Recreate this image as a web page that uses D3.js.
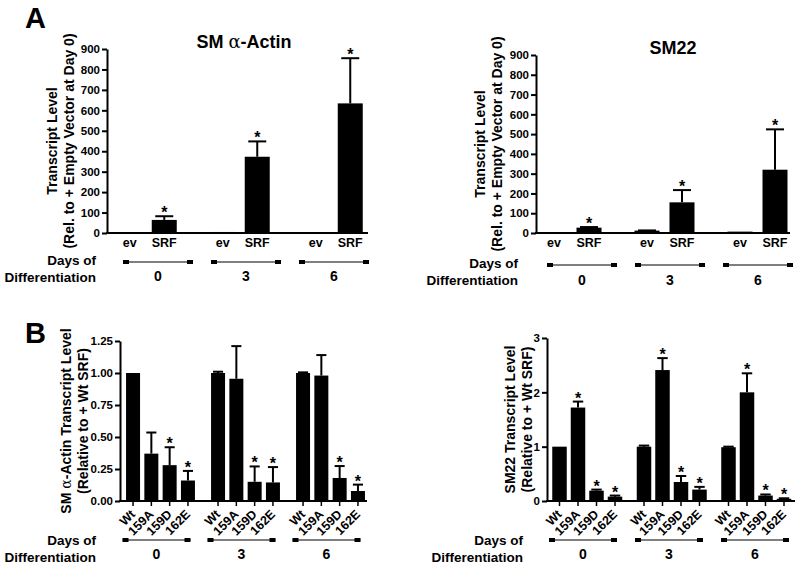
<!DOCTYPE html>
<html><head><meta charset="utf-8">
<script src="https://cdn.jsdelivr.net/npm/d3@7"></script>
<style>
body{margin:0;background:#fff;}
svg{font-family:"Liberation Sans",Arial,Helvetica,sans-serif;font-weight:bold;}
</style></head>
<body><svg id="c" width="800" height="565"></svg>
<script>
// ---------- DATA ----------
const days = ["0","3","6"];
const constructsA = ["ev","SRF"];
const constructsB = ["Wt","159A","159D","162E"];
const ticksA = [0,100,200,300,400,500,600,700,800,900];
const ticksBactin = [0,0.25,0.5,0.75,1.0,1.25];
const ticksBsm22 = [0,1,2,3];

// Panel A: SM alpha-actin (rows = days, cols = ev, SRF)
const actinA_mean = [[1,64],[5,373],[4,634]];
const actinA_err  = [[0,18],[0,75],[0,221]];
const actinA_sig  = [[0,1],[0,1],[0,1]];
// Panel A: SM22
const sm22A_mean = [[4,27],[12,155],[7,320]];
const sm22A_err  = [[0,3],[1,62],[0,204]];
const sm22A_sig  = [[0,1],[0,1],[0,1]];
// Panel B: SM alpha-actin (cols = Wt,159A,159D,162E)
const actinB_mean = [[1.00,0.37,0.28,0.16],[1.00,0.955,0.15,0.145],[1.00,0.98,0.18,0.078]];
const actinB_err  = [[0,0.165,0.14,0.075],[0.01,0.255,0.12,0.12],[0.005,0.16,0.093,0.05]];
const actinB_sig  = [[0,0,1,1],[0,0,1,1],[0,0,1,1]];
// Panel B: SM22
const sm22B_mean = [[1.00,1.72,0.19,0.08],[1.00,2.41,0.35,0.21],[0.99,2.00,0.10,0.04]];
const sm22B_err  = [[0,0.11,0.02,0.02],[0.02,0.22,0.11,0.05],[0.01,0.35,0.02,0.01]];
const sm22B_sig  = [[0,1,1,1],[0,1,1,1],[0,1,1,1]];

// ---------- DRAW ----------
const svg = d3.select("#c");

function panel(o){
  const g = svg.append("g");
  const y = d3.scaleLinear().domain([0,o.ymax]).range([o.yBot,o.yTop]);
  const gx = d3.scaleBand().domain(days).range(o.groupRange).padding(0);
  const n = o.cats.length;
  const B = gx.bandwidth();
  const pi = 1 - o.bw/o.step;
  const po = (B/o.step - n + pi)/2;
  const ix = d3.scaleBand().domain(o.cats).range([0,B]).paddingInner(pi).paddingOuter(po);

  // y axis
  const ya = g.append("g").attr("transform",`translate(${o.x0},0)`)
    .call(d3.axisLeft(y).tickValues(o.ticks).tickFormat(o.fmt).tickSize(5).tickSizeOuter(0).tickPadding(2));
  ya.selectAll("path,line").attr("stroke","#000").attr("stroke-width",2);
  ya.selectAll("text").attr("font-size",11.5).attr("font-weight","bold").attr("fill","#000")
    .attr("font-family",'"Liberation Sans",Arial,sans-serif');
  // x axis line
  g.append("line").attr("x1",o.x0-1).attr("x2",o.x1).attr("y1",o.yBot).attr("y2",o.yBot)
    .attr("stroke","#000").attr("stroke-width",2);

  // bars
  const recs = [];
  days.forEach((d,i)=>o.cats.forEach((c,j)=>recs.push({d,c,v:o.mean[i][j],e:o.err[i][j],s:o.sig[i][j]})));
  const cx = r => gx(r.d)+ix(r.c)+ix.bandwidth()/2;
  g.selectAll("rect.bar").data(recs).enter().append("rect")
    .attr("x",r=>gx(r.d)+ix(r.c)).attr("width",ix.bandwidth())
    .attr("y",r=>y(r.v)).attr("height",r=>o.yBot-y(r.v)).attr("fill","#000");
  // error bars
  const eb = recs.filter(r=>r.e>0);
  g.selectAll("line.ev").data(eb).enter().append("line")
    .attr("x1",cx).attr("x2",cx).attr("y1",r=>y(r.v)).attr("y2",r=>y(r.v+r.e))
    .attr("stroke","#000").attr("stroke-width",2);
  g.selectAll("line.eh").data(eb).enter().append("line")
    .attr("x1",r=>cx(r)-ix.bandwidth()*0.36).attr("x2",r=>cx(r)+ix.bandwidth()*0.36)
    .attr("y1",r=>y(r.v+r.e)).attr("y2",r=>y(r.v+r.e))
    .attr("stroke","#000").attr("stroke-width",2);
  // stars
  g.selectAll("text.star").data(recs.filter(r=>r.s)).enter().append("text")
    .attr("x",cx).attr("y",r=>y(r.v+r.e)+2).attr("text-anchor","middle")
    .attr("font-size",16).text("*");

  // x labels
  if(o.rot){
    g.selectAll("g.xt").data(recs).enter().append("line")
      .attr("x1",cx).attr("x2",cx).attr("y1",o.yBot).attr("y2",o.yBot+5)
      .attr("stroke","#000").attr("stroke-width",1.5);
    g.selectAll("text.xl").data(recs).enter().append("text")
      .attr("transform",r=>`translate(${cx(r)+3},${o.yBot+14}) rotate(-45)`)
      .attr("text-anchor","end").attr("font-size",12.5).text(r=>r.c);
  } else {
    g.selectAll("text.xl").data(recs).enter().append("text")
      .attr("x",cx).attr("y",o.yBot+14).attr("text-anchor","middle")
      .attr("font-size",12.5).text(r=>r.c);
  }

  // day brackets
  const bx = d3.scaleBand().domain(days).range(o.bracketRange).padding(0);
  days.forEach(d=>{
    const c = bx(d)+bx.bandwidth()/2, h = o.bracketHalf;
    g.append("line").attr("x1",c-h).attr("x2",c+h).attr("y1",o.bracketY).attr("y2",o.bracketY)
      .attr("stroke","#000").attr("stroke-width",1.2);
    g.append("rect").attr("x",c-h).attr("y",o.bracketY-2).attr("width",6).attr("height",4).attr("fill","#000");
    g.append("rect").attr("x",c+h-6).attr("y",o.bracketY-2).attr("width",6).attr("height",4).attr("fill","#000");
    g.append("text").attr("x",c).attr("y",o.dayY).attr("text-anchor","middle").attr("font-size",14).text(d);
  });
  g.append("text").attr("x",o.daysOfX).attr("y",o.daysOfY).attr("text-anchor","end").attr("font-size",13.5).text("Days of");
  g.append("text").attr("x",o.daysOfX).attr("y",o.daysOfY+17).attr("text-anchor","end").attr("font-size",13.5).text("Differentiation");

  // y title
  const yc = (o.yTop+o.yBot)/2;
  const t1 = g.append("text").attr("transform",`translate(${o.ylx1},${yc}) rotate(-90)`)
    .attr("text-anchor","middle").attr("dominant-baseline","central").attr("font-size",14);
  o.ylab1(t1);
  g.append("text").attr("transform",`translate(${o.ylx2},${yc}) rotate(-90)`)
    .attr("text-anchor","middle").attr("dominant-baseline","central").attr("font-size",14).text(o.ylab2);

  if(o.title){
    const t = g.append("text").attr("x",o.titleX).attr("y",o.titleY).attr("text-anchor","middle").attr("font-size",18);
    o.title(t);
  }
}

function alphaText(sel, before, after){
  sel.append("tspan").text(before);
  sel.append("tspan").attr("font-weight","normal").attr("font-family",'"DejaVu Serif",serif').text("α");
  sel.append("tspan").text(after);
}

// Panel A left
panel({x0:107,x1:368,yTop:49,yBot:233,ymax:900,ticks:ticksA,fmt:d3.format("d"),
  groupRange:[100.5,379.5],step:34.5,bw:25,cats:constructsA,
  mean:actinA_mean,err:actinA_err,sig:actinA_sig,rot:false,
  bracketRange:[114,378],bracketHalf:35,bracketY:262,dayY:281,daysOfX:96,daysOfY:265,
  ylx1:52,ylx2:69,ylab1:t=>t.text("Transcript Level"),ylab2:"(Rel. to + Empty Vector at Day 0)",
  title:t=>alphaText(t,"SM ","-Actin"),titleX:244,titleY:48});
// Panel A right
panel({x0:536,x1:790,yTop:55,yBot:233,ymax:900,ticks:ticksA,fmt:d3.format("d"),
  groupRange:[525,804],step:35,bw:25,cats:constructsA,
  mean:sm22A_mean,err:sm22A_err,sig:sm22A_sig,rot:false,
  bracketRange:[538,802],bracketHalf:35,bracketY:265,dayY:285,daysOfX:518,daysOfY:268,
  ylx1:480,ylx2:497,ylab1:t=>t.text("Transcript Level"),ylab2:"(Rel. to + Empty Vector at Day 0)",
  title:t=>t.text("SM22"),titleX:673,titleY:54});
// Panel B left
panel({x0:120,x1:367,yTop:341,yBot:501,ymax:1.25,ticks:ticksBactin,fmt:d3.format(".2f"),
  groupRange:[118,373],step:18.3,bw:14,cats:constructsB,
  mean:actinB_mean,err:actinB_err,sig:actinB_sig,rot:true,
  bracketRange:[114,369],bracketHalf:34,bracketY:540,dayY:559,daysOfX:96,daysOfY:545,
  ylx1:66,ylx2:83,ylab1:t=>alphaText(t,"SM ","-Actin Transcript Level"),ylab2:"(Relative to + Wt SRF)"});
// Panel B right
panel({x0:547,x1:795,yTop:338,yBot:501,ymax:3,ticks:ticksBsm22,fmt:d3.format("d"),
  groupRange:[545,798.5],step:18.5,bw:14.5,cats:constructsB,
  mean:sm22B_mean,err:sm22B_err,sig:sm22B_sig,rot:true,
  bracketRange:[540,798],bracketHalf:34,bracketY:540,dayY:559,daysOfX:523,daysOfY:545,
  ylx1:510,ylx2:527,ylab1:t=>t.text("SM22 Transcript Level"),ylab2:"(Relative to + Wt SRF)"});

svg.append("text").attr("x",25).attr("y",28).attr("font-size",29).text("A");
svg.append("text").attr("x",25).attr("y",343).attr("font-size",29).text("B");
</script></body></html>
